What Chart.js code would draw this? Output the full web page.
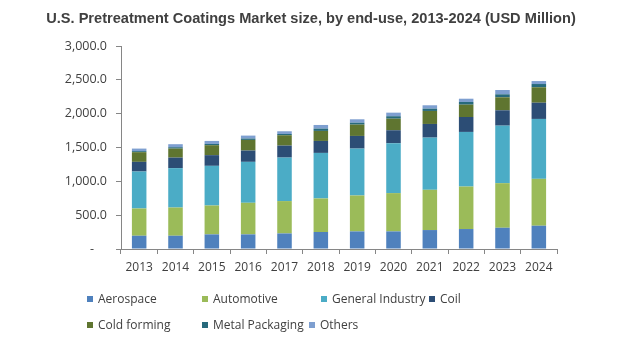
<!DOCTYPE html>
<html>
<head>
<meta charset="utf-8">
<script src="https://cdn.jsdelivr.net/npm/chart.js@4/dist/chart.umd.min.js"></script>
<style>
  html, body { margin: 0; padding: 0; background: #fff; }
  #wrap { position: relative; width: 639px; height: 355px; overflow: hidden; }
  #c { position: absolute; left: 0; top: 0; }
  #title { position: absolute; left: 0; width: 622px; top: 10px; text-align: center;
           font: bold 14.6px "Liberation Sans", Arial, sans-serif; color: #404040; }
  .lg { position: absolute; font: 12px "Open Sans", sans-serif; color: #404040; line-height: 14px; white-space: nowrap; }
  .lg i { position: absolute; left: -11px; top: 4px; width: 6px; height: 6px; }
</style>
</head>
<body>
<div id="wrap">
  <canvas id="c" width="639" height="355"></canvas>
  <div id="title">U.S. Pretreatment Coatings Market size, by end-use, 2013-2024 (USD Million)</div>
  <div id="legend"></div>
</div>
<script>
const years = ['2013','2014','2015','2016','2017','2018','2019','2020','2021','2022','2023','2024'];
const aerospace      = [196, 196, 216, 216, 230, 251, 260, 260, 280, 295, 314, 344];
const automotive     = [403, 417, 427, 467, 478, 496, 531, 566, 595, 628, 659, 693];
const generalIndustry= [546, 582, 586, 605, 643, 673, 693, 737, 771, 807, 850, 885];
const coil           = [143, 156, 158, 167, 177, 177, 187, 192, 202, 221, 227, 240];
const coldForming    = [143, 133, 147, 157, 153, 148, 167, 171, 192, 182, 192, 228];
const metalPackaging = [ 15,  20,  19,  20,  19,  34,  29,  36,  34,  40,  44,  48];
const others         = [ 38,  45,  44,  44,  40,  54,  50,  53,  50,  48,  64,  44];
const yTicks = [0, 500, 1000, 1500, 2000, 2500, 3000];

const seriesNames = ['Aerospace','Automotive','General Industry','Coil','Cold forming','Metal Packaging','Others'];
const seriesData = [aerospace, automotive, generalIndustry, coil, coldForming, metalPackaging, others];
const colors = ['#4F81BD','#9BBB59','#4BACC6','#2C4D75','#5F7530','#276A7C','#7E9FD0'];

const datasets = seriesNames.map((n, i) => ({
  label: n, data: seriesData[i], backgroundColor: colors[i],
  borderWidth: 0, barPercentage: 0.4, categoryPercentage: 1.0
}));

const axisColor = '#868686';
new Chart(document.getElementById('c'), {
  type: 'bar',
  data: { labels: years, datasets },
  options: {
    responsive: false, animation: false,
    layout: { padding: { left: 0, right: 82, top: 46, bottom: 70 } },
    plugins: { legend: { display: false }, title: { display: false }, tooltip: { enabled: false } },
    scales: {
      x: {
        stacked: true,
        grid: { display: true, drawOnChartArea: false, drawTicks: true, tickLength: 5, color: axisColor, offset: true },
        border: { display: true, color: axisColor, width: 1 },
        ticks: { color: '#404040', font: { family: 'Open Sans', size: 12 }, padding: 6, maxRotation: 0 },
        afterFit: s => { s.height = 36; }
      },
      y: {
        stacked: true, min: 0, max: 3000,
        afterBuildTicks: s => { s.ticks = yTicks.map(v => ({ value: v })); },
        grid: { display: true, drawOnChartArea: false, drawTicks: true, tickLength: 5, color: axisColor },
        border: { display: true, color: axisColor, width: 1 },
        ticks: {
          color: '#404040', font: { family: 'Open Sans', size: 12.5 }, padding: 9,
          callback: v => v === 0 ? '-    ' : v.toLocaleString('en-US', { minimumFractionDigits: 1, maximumFractionDigits: 1 })
        },
        afterFit: s => { s.width = 121; }
      }
    }
  }
});

const legendPos = [[98,292],[213,292],[332,292],[440,292],[98,318],[213,318],[320,318]];
const lg = document.getElementById('legend');
seriesNames.forEach((n, i) => {
  const d = document.createElement('div');
  d.className = 'lg';
  d.style.left = legendPos[i][0] + 'px';
  d.style.top = legendPos[i][1] + 'px';
  d.innerHTML = '<i style="background:' + colors[i] + '"></i>' + n;
  lg.appendChild(d);
});
</script>
</body>
</html>
